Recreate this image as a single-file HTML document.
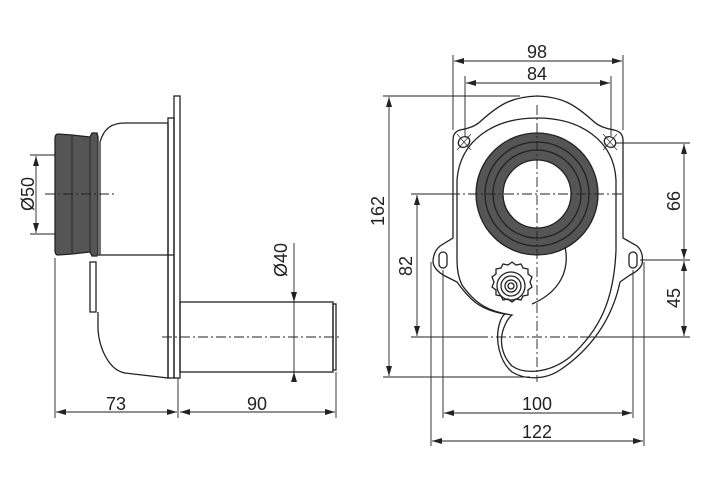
<!DOCTYPE html>
<html><head><style>
html,body{margin:0;padding:0;background:#fff;}
svg{display:block;}
text{font-family:"Liberation Sans",sans-serif;font-size:18px;fill:#222;}
</style></head><body>
<svg width="710" height="500" viewBox="0 0 710 500" xmlns="http://www.w3.org/2000/svg">
<defs>
<marker id="a" viewBox="0 0 10 6" refX="10" refY="3" markerWidth="10" markerHeight="6" orient="auto-start-reverse" markerUnits="userSpaceOnUse"><path d="M0,0 L10,3 L0,6 z" fill="#222"/></marker>
</defs>
<g fill="none" stroke="#222" stroke-width="1.3">
<!-- LEFT VIEW -->
<!-- body -->
<path d="M100,142 C104,128 112,123 125,123 L168,123 L168,378 L125,373 C108,370 97,345 98,322 L98,312 M100,142 L100,255"/>
<path d="M98,255 L174,255"/>
<rect x="90" y="262" width="6" height="50" />
<rect x="168" y="118" width="6" height="260"/>
<rect x="174" y="96" width="6" height="282"/>
<!-- gasket -->
<path d="M58,134 L72,135 L90,137 L92,133 L97,133 L98,137 L98,253 L97,256 L92,256 L90,252 L72,254 L58,255 Q55,255 55,250 L55,139 Q55,134 58,134 z" fill="#555"/>
<path d="M72,135 L72,254 M90,137 L90,252" stroke="#333"/>
<!-- pipe -->
<rect x="180" y="302" width="153" height="70"/>
<rect x="333" y="304" width="3" height="66"/>
</g>
<g stroke="#222" stroke-width="0.9" fill="none">
<!-- centerlines -->
<path d="M45,194 L115,194" stroke-dasharray="10,3,2,3"/>
<path d="M162,337 L340,337" stroke-dasharray="10,3,2,3"/>
<!-- Ø50 -->
<path d="M30,155 L55,155 M30,234 L55,234"/>
<path d="M36,156 L36,233" marker-start="url(#a)" marker-end="url(#a)"/>
<!-- Ø40 -->
<path d="M294,243 L294,302" marker-end="url(#a)"/>
<path d="M294,382 L294,372" marker-end="url(#a)"/>
<path d="M294,302 L294,372"/>
<!-- 73 / 90 -->
<path d="M55,258 L55,418 M178,378 L178,418 M336,372 L336,418"/>
<path d="M56,412 L177,412" marker-start="url(#a)" marker-end="url(#a)"/>
<path d="M180,412 L335,412" marker-start="url(#a)" marker-end="url(#a)"/>
</g>
<text x="116" y="410" text-anchor="middle">73</text>
<text x="257" y="410" text-anchor="middle">90</text>
<text transform="translate(34,194) rotate(-90)" text-anchor="middle">Ø50</text>
<text transform="translate(287,260) rotate(-90)" text-anchor="middle">Ø40</text>

<!-- RIGHT VIEW -->
<g fill="none" stroke="#222" stroke-width="1.3">
<!-- outer body -->
<path d="M460,130 C470,128 476,126 482,120 C500,104 512,97 537,96 C562,97 574,104 592,120 C598,126 604,128 614,130 Q623,132 623,140 L623,238 L637,246 Q644,252 642,264 Q640,270 630,275 L620,282 C612,320 590,350 560,370 C545,380 525,380 512,372 C500,362 494,340 500,322 Q502,316 505,314 C480,310 470,300 457,282 L445,276 Q434,270 433,262 Q433,252 440,246 L453,238 L453,140 Q453,132 460,130 z"/>
<!-- inner loop -->
<path d="M537,118 C580,118 614,140 616,180 L616,250 C614,300 600,330 570,357 C550,373 525,375 512,366 C502,356 498,340 505,325 Q508,318 512,315 C490,312 476,305 462,285 Q457,275 457,260 L457,180 C460,140 494,118 537,118 z"/>
<!-- ring -->
<circle cx="537" cy="194" r="61" fill="#555"/>
<circle cx="537" cy="194" r="52"/>
<circle cx="537" cy="194" r="44"/>
<circle cx="537" cy="194" r="34" fill="#fff"/>
<!-- inner arc below ring -->
<path d="M565,247 C570,270 560,292 532,304"/>
<!-- knob -->
<path d="M512,262 l4,3 5,-1 2,4 5,1 0,5 4,3 -2,5 2,5 -4,3 0,5 -5,1 -2,4 -5,-1 -4,3 -4,-3 -5,1 -2,-4 -5,-1 0,-5 -4,-3 2,-5 -2,-5 4,-3 0,-5 5,-1 2,-4 5,1 z" fill="#fff"/>
<circle cx="511" cy="286" r="14"/>
<circle cx="511" cy="286" r="10"/>
<circle cx="511" cy="286" r="6"/>
<circle cx="511" cy="286" r="3"/>
<!-- ear holes -->
<rect x="439" y="252" width="8" height="16" rx="4"/>
<rect x="629" y="252" width="8" height="16" rx="4"/>
<ellipse cx="464" cy="142" rx="6" ry="5" transform="rotate(-35 464 142)"/>
<ellipse cx="610" cy="142" rx="6" ry="5" transform="rotate(35 610 142)"/>
</g>
<g stroke="#222" stroke-width="0.9" fill="none">
<!-- centerlines -->
<path d="M450,194 L625,194 M537,105 L537,382 M478,337 L580,337" stroke-dasharray="10,3,2,3"/>
<path d="M457,134 L471,150 M471,134 L457,150 M603,134 L617,150 M617,134 L603,150" stroke-width="0.6"/>
<!-- 162 -->
<path d="M383,96 L520,96 M383,377 L530,377"/>
<path d="M389,97 L389,376" marker-start="url(#a)" marker-end="url(#a)"/>
<!-- 82 -->
<path d="M411,194 L452,194 M411,337 L482,337"/>
<path d="M417,195 L417,336" marker-start="url(#a)" marker-end="url(#a)"/>
<!-- 66/45 -->
<path d="M616,143 L690,143 M640,260 L690,260 M580,337 L690,337"/>
<path d="M684,144 L684,259" marker-start="url(#a)" marker-end="url(#a)"/>
<path d="M684,261 L684,336" marker-start="url(#a)" marker-end="url(#a)"/>
<!-- 98/84 -->
<path d="M453,55 L453,130 M623,55 L623,130 M465,76 L465,136 M611,76 L611,136"/>
<path d="M454,61 L622,61" marker-start="url(#a)" marker-end="url(#a)"/>
<path d="M466,83 L610,83" marker-start="url(#a)" marker-end="url(#a)"/>
<!-- 100/122 -->
<path d="M443,270 L443,418 M633,270 L633,418 M431,262 L431,446 M644,262 L644,446"/>
<path d="M444,413 L632,413" marker-start="url(#a)" marker-end="url(#a)"/>
<path d="M432,441 L643,441" marker-start="url(#a)" marker-end="url(#a)"/>
</g>
<text x="537" y="58" text-anchor="middle">98</text>
<text x="537" y="80" text-anchor="middle">84</text>
<text x="537" y="410" text-anchor="middle">100</text>
<text x="537" y="438" text-anchor="middle">122</text>
<text transform="translate(384,211) rotate(-90)" text-anchor="middle">162</text>
<text transform="translate(412,266) rotate(-90)" text-anchor="middle">82</text>
<text transform="translate(680,201) rotate(-90)" text-anchor="middle">66</text>
<text transform="translate(680,298) rotate(-90)" text-anchor="middle">45</text>
</svg>
</body></html>
